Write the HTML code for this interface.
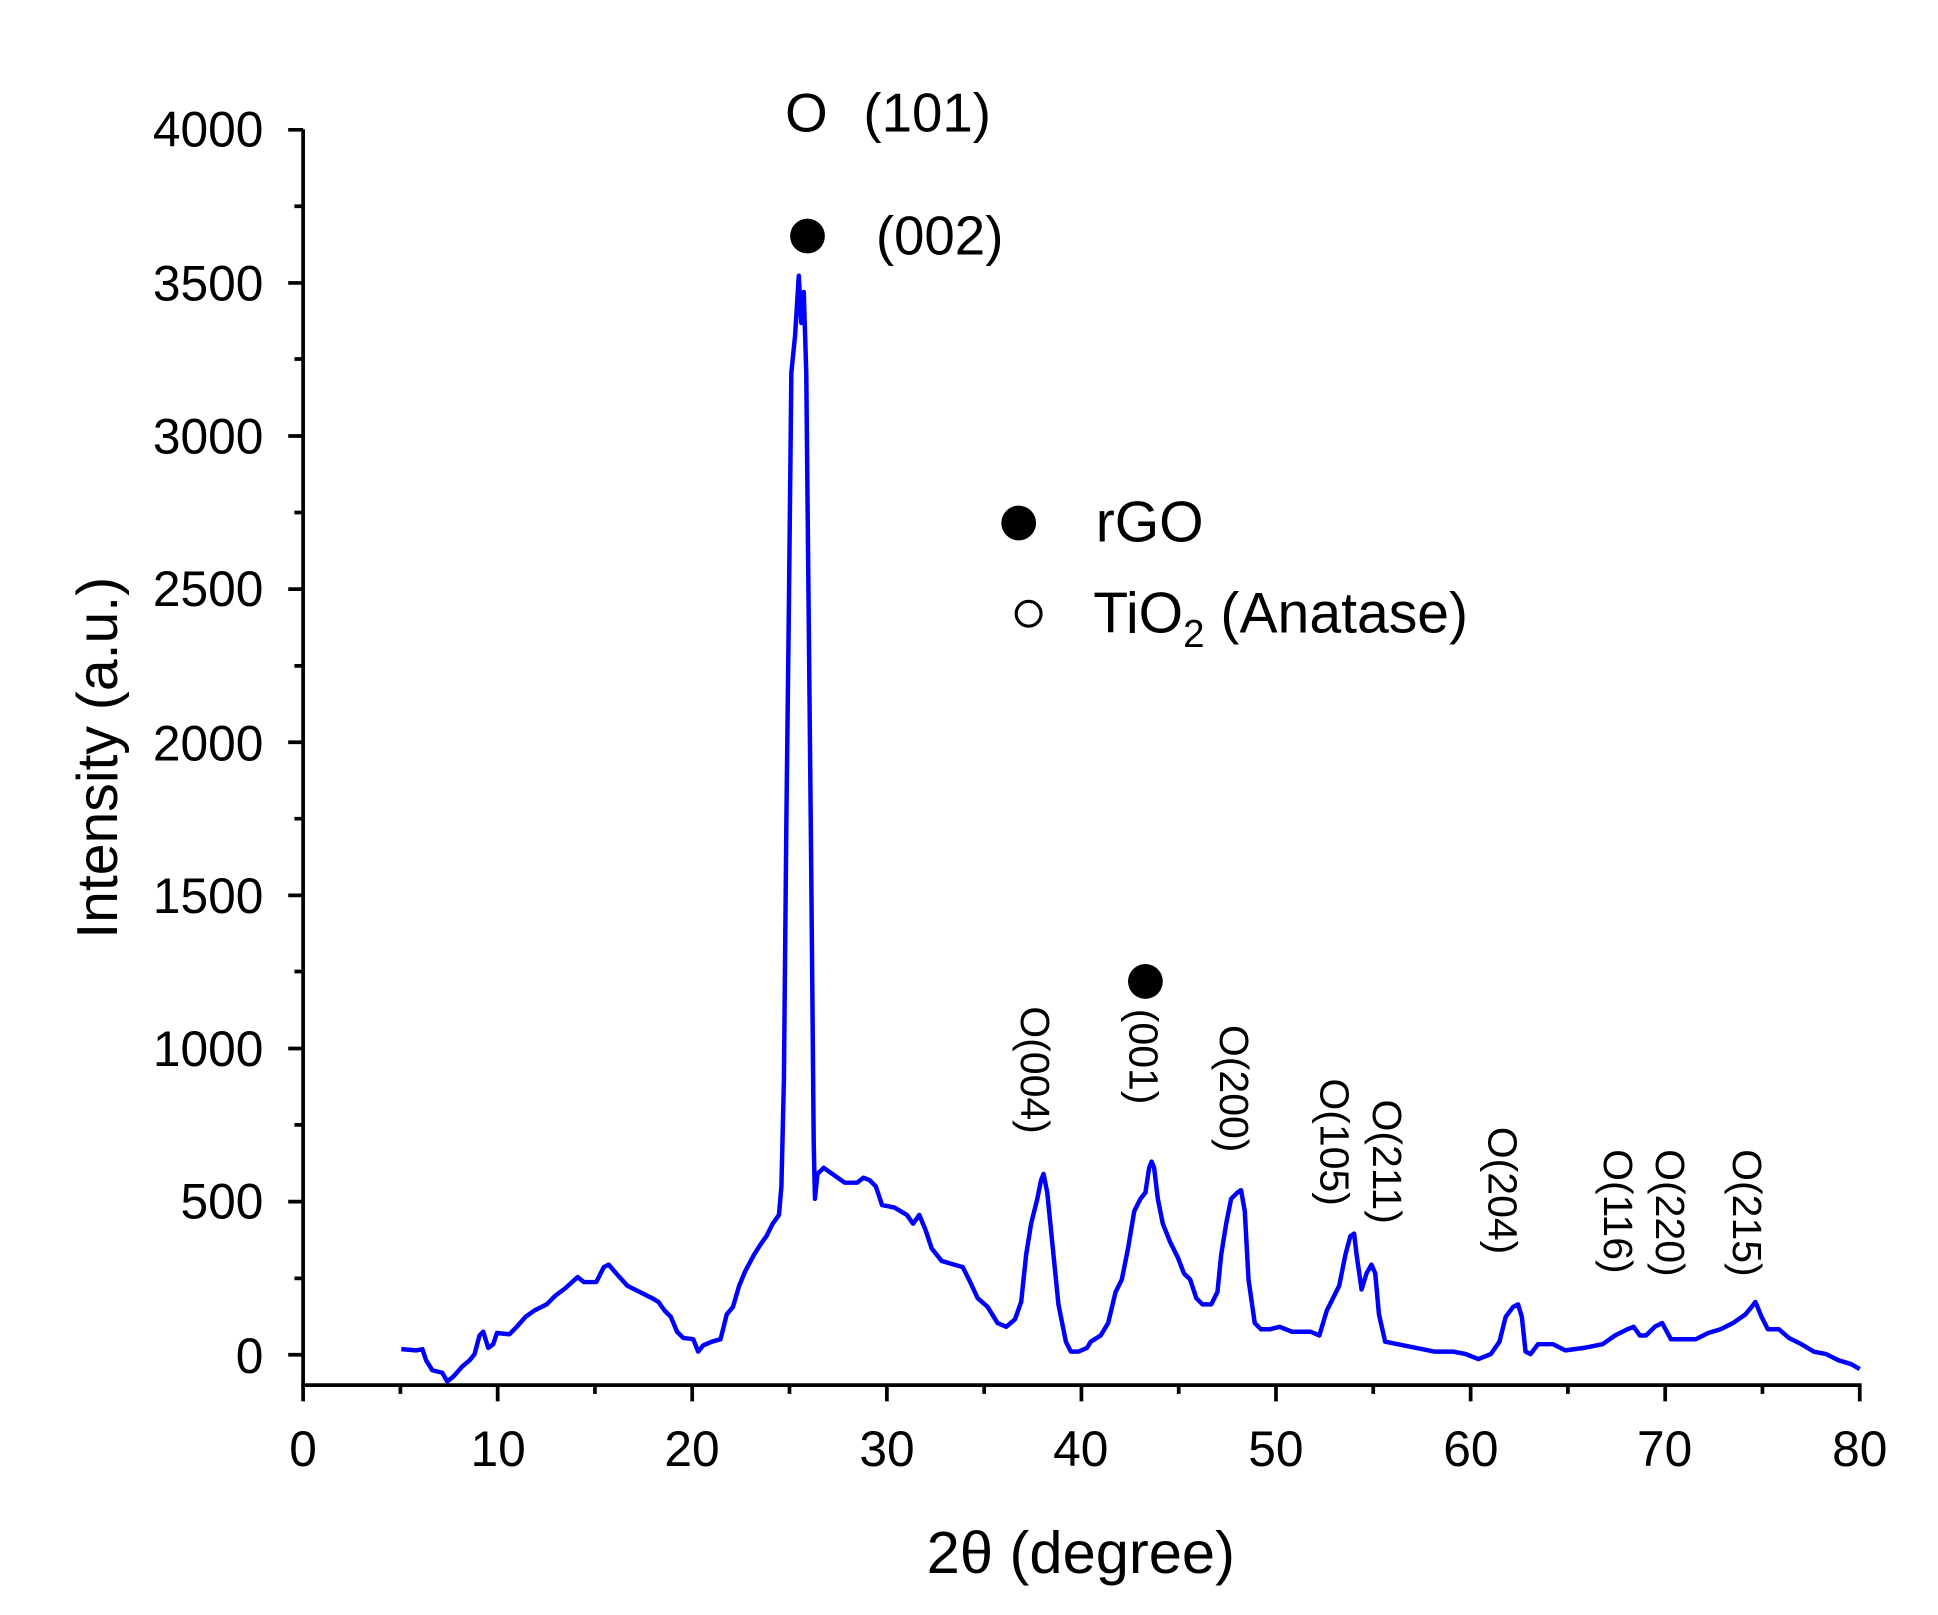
<!DOCTYPE html>
<html><head><meta charset="utf-8"><style>
html,body{margin:0;padding:0;background:#fff;}
svg{display:block;}
text{font-family:"Liberation Sans",Arial,sans-serif;fill:#000;}
</style></head><body>
<svg width="1938" height="1615" viewBox="0 0 1560 1300" preserveAspectRatio="none" xmlns="http://www.w3.org/2000/svg">
<g stroke="#000" stroke-width="3" fill="none">
<line x1="244" y1="104" x2="244" y2="1116"/>
<line x1="242.5" y1="1115" x2="1498.5" y2="1115"/>
<path d="M232 104.5H244M232 227.75H244M232 351H244M232 474.25H244M232 597.5H244M232 720.75H244M232 844H244M232 967.25H244M232 1090.5H244"/>
<path d="M237 166H244M237 289H244M237 412.5H244M237 536H244M237 659H244M237 782H244M237 905.5H244M237 1029H244"/>
<path d="M244 1115V1128M400.6 1115V1128M557.2 1115V1128M713.9 1115V1128M870.5 1115V1128M1027.1 1115V1128M1183.8 1115V1128M1340.4 1115V1128M1497 1115V1128"/>
<path d="M322.3 1115V1122M478.9 1115V1122M635.5 1115V1122M792.2 1115V1122M948.8 1115V1122M1105.4 1115V1122M1262.1 1115V1122M1418.7 1115V1122"/>
</g>
<g font-size="40" text-anchor="end">
<text x="212" y="118">4000</text><text x="212" y="242">3500</text><text x="212" y="365">3000</text><text x="212" y="488">2500</text><text x="212" y="612">2000</text><text x="212" y="735">1500</text><text x="212" y="858">1000</text><text x="212" y="981">500</text><text x="212" y="1105">0</text>
</g>
<g font-size="40" text-anchor="middle">
<text x="244" y="1180">0</text><text x="401" y="1180">10</text><text x="557" y="1180">20</text><text x="714" y="1180">30</text><text x="870" y="1180">40</text><text x="1027" y="1180">50</text><text x="1184" y="1180">60</text><text x="1340" y="1180">70</text><text x="1497" y="1180">80</text>
</g>
<text x="870" y="1266" font-size="48" text-anchor="middle">2θ (degree)</text>
<text transform="translate(94,610) rotate(-90)" font-size="46" text-anchor="middle">Intensity (a.u.)</text>
<polyline fill="none" stroke="#0000ff" stroke-width="3.6" stroke-linejoin="round" points="323,1086 335,1087 340,1086 343,1095 348,1103 356,1105 360,1112 365,1108 372,1100 378,1095 382,1090 386,1075 389,1072 393,1085 397,1082 400,1073 410,1074 416,1068 423,1060 430,1055 440,1050 447,1043 455,1037 465,1028 470,1032 480,1032 486,1020 490,1018 496,1025 505,1035 515,1040 525,1045 530,1048 535,1055 540,1060 545,1072 550,1077 558,1078 562,1088 566,1083 573,1080 580,1078 585,1058 590,1052 595,1035 600,1023 607,1010 612,1002 617,995 622,985 627,978 629,955 631,870 633,660 635,490 637,300 640,270 643,222 645,260 647,235 649,300 651,500 653,700 655,920 656,965 658,945 663,940 670,945 680,952 690,952 695,948 700,950 705,955 710,970 720,972 730,978 735,985 740,978 745,990 750,1005 758,1015 768,1018 775,1020 780,1030 787,1045 795,1052 803,1065 810,1068 817,1062 822,1048 826,1010 830,985 835,965 838,950 840,945 843,960 847,1000 852,1050 858,1080 862,1088 868,1088 875,1085 878,1080 886,1075 892,1065 898,1040 903,1030 908,1005 913,975 918,965 922,960 925,940 927,935 929,940 932,965 936,985 942,1000 948,1012 953,1025 958,1030 963,1045 968,1050 975,1050 980,1040 983,1010 987,985 991,965 996,960 999,958 1002,975 1005,1030 1010,1065 1015,1070 1022,1070 1030,1068 1040,1072 1055,1072 1062,1075 1068,1055 1073,1045 1078,1035 1083,1010 1087,995 1090,993 1092,1010 1096,1038 1100,1025 1104,1018 1107,1025 1110,1058 1115,1080 1125,1082 1140,1085 1155,1088 1170,1088 1180,1090 1190,1094 1200,1090 1207,1080 1212,1060 1218,1052 1222,1050 1225,1060 1228,1088 1232,1090 1238,1082 1250,1082 1260,1087 1275,1085 1290,1082 1300,1075 1310,1070 1315,1068 1320,1075 1325,1075 1332,1068 1338,1065 1345,1078 1355,1078 1365,1078 1375,1073 1385,1070 1395,1065 1405,1058 1410,1052 1413,1048 1418,1060 1423,1070 1432,1070 1440,1077 1450,1082 1460,1088 1470,1090 1480,1095 1490,1098 1497,1102"/>
<text x="632" y="106" font-size="44">O</text>
<text x="695" y="106" font-size="44">(101)</text>
<circle cx="650" cy="190" r="14" fill="#000"/>
<text x="705" y="205" font-size="44">(002)</text>
<circle cx="820" cy="421" r="14" fill="#000"/>
<text x="882" y="436" font-size="46">rGO</text>
<circle cx="828" cy="494" r="10" fill="none" stroke="#000" stroke-width="2.5"/>
<text x="880" y="509" font-size="46">TiO<tspan font-size="31" dy="12">2</tspan><tspan dy="-12"> (Anatase)</tspan></text>
<circle cx="922" cy="790" r="14" fill="#000"/>
<g font-size="33">
<text transform="translate(822,810) rotate(90)">O(004)</text>
<text transform="translate(909,812) rotate(90)">(001)</text>
<text transform="translate(982,825) rotate(90)">O(200)</text>
<text transform="translate(1063,868) rotate(90)">O(105)</text>
<text transform="translate(1105,885) rotate(90)">O(211)</text>
<text transform="translate(1198,907) rotate(90)">O(204)</text>
<text transform="translate(1291,925) rotate(90)">O(116)</text>
<text transform="translate(1333,925) rotate(90)">O(220)</text>
<text transform="translate(1395,925) rotate(90)">O(215)</text>
</g>
</svg>
</body></html>
